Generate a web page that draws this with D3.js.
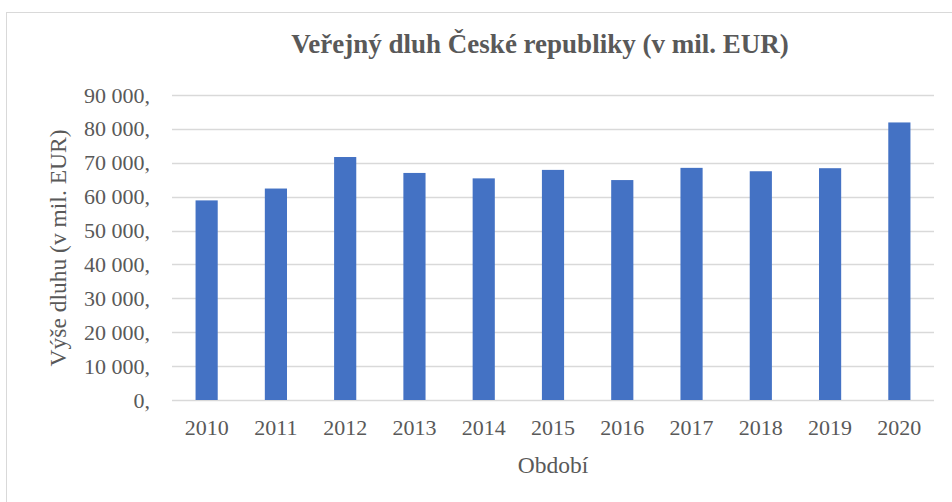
<!DOCTYPE html>
<html>
<head>
<meta charset="utf-8">
<script src="https://cdn.jsdelivr.net/npm/d3@7"></script>
<style>
body{margin:0;background:#fff;}
</style>
</head>
<body>
<div id="chart"></div>
<script>
// data
const years = ["2010","2011","2012","2013","2014","2015","2016","2017","2018","2019","2020"];
const debt = [58900, 62400, 71700, 67000, 65400, 67900, 64900, 68500, 67500, 68400, 81900];
const yTicks = [0,10000,20000,30000,40000,50000,60000,70000,80000,90000];
const yTickLabels = ["0,","10 000,","20 000,","30 000,","40 000,","50 000,","60 000,","70 000,","80 000,","90 000,"];

const W=952, H=502;
const margin={top:95, right:18, bottom:102, left:172};
const gw=W-margin.left-margin.right;
const gh=H-margin.top-margin.bottom;
const serif='"Liberation Serif", "Times New Roman", serif';

const svg=d3.select("#chart").append("svg")
  .attr("width",W)
  .attr("height",H);

// chart frame
svg.append("rect")
  .attr("x",6.5).attr("y",12.5)
  .attr("width",W).attr("height",H)
  .attr("fill","none")
  .attr("stroke","#d9d9d9");

const g=svg.append("g")
  .attr("transform",`translate(${margin.left},${margin.top})`);

const x=d3.scaleBand()
  .domain(years)
  .range([0,gw])
  .paddingInner(0.68)
  .paddingOuter(0.34);

const y=d3.scaleLinear()
  .domain([0,90000])
  .range([gh,0]);

// gridlines
g.selectAll(".grid")
  .data(yTicks)
  .enter().append("line")
  .attr("x1",0).attr("x2",gw)
  .attr("y1",d=>Math.round(y(d))+0.5)
  .attr("y2",d=>Math.round(y(d))+0.5)
  .attr("stroke","#d9d9d9")
  .attr("stroke-width",1.5);

// y axis labels
const yAxis=d3.axisLeft(y)
  .tickValues(yTicks)
  .tickFormat((d,i)=>yTickLabels[i])
  .tickSize(0)
  .tickPadding(22);
const yg=g.append("g").call(yAxis);
yg.select(".domain").remove();
yg.selectAll("text").attr("font-size",22).style("font-family",serif).attr("fill","#595959");

// bars
g.selectAll(".bar")
  .data(debt)
  .enter().append("rect")
  .attr("x",(d,i)=>x(years[i]))
  .attr("y",d=>y(d))
  .attr("width",x.bandwidth())
  .attr("height",d=>gh-y(d))
  .attr("fill","#4472c4");

// x axis
const xAxis=d3.axisBottom(x).tickSize(0).tickPadding(19);
const xg=g.append("g").attr("transform",`translate(0,${gh})`).call(xAxis);
xg.select(".domain").remove();
xg.selectAll("text").attr("font-size",22).style("font-family",serif).attr("fill","#595959");

// title
svg.append("text")
  .attr("x",540).attr("y",53)
  .attr("text-anchor","middle")
  .style("font-family",serif)
  .style("font-size","27px")
  .style("font-weight","bold")
  .style("fill","#595959")
  .text("Veřejný dluh České republiky (v mil. EUR)");

// axis titles
svg.append("text")
  .attr("x",margin.left+gw/2).attr("y",473)
  .attr("text-anchor","middle")
  .style("font-family",serif)
  .style("font-size","23.5px")
  .style("fill","#595959")
  .text("Období");

svg.append("text")
  .attr("transform","translate(66,248) rotate(-90)")
  .attr("text-anchor","middle")
  .style("font-family",serif)
  .style("font-size","23.5px")
  .style("fill","#595959")
  .text("Výše dluhu (v mil. EUR)");
</script>
</body>
</html>
